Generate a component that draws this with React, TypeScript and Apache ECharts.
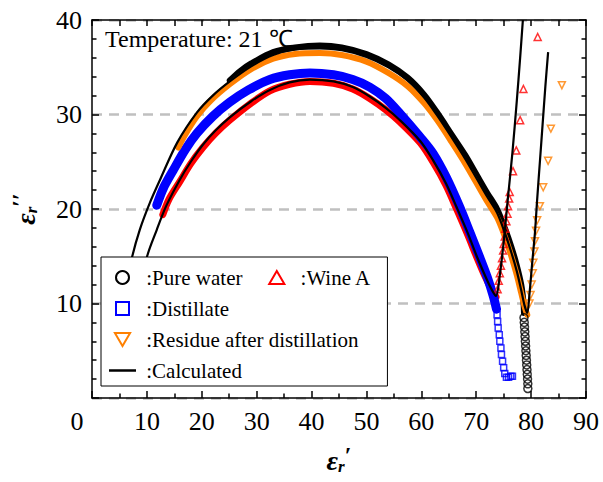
import React, { useEffect, useRef } from "react";
import * as echarts from "echarts";

// ε' (x) and ε'' (y) values
const pureWaterBand: [number, number][] = [
  [25.1, 33.6], [27.0, 34.6], [29.0, 35.4], [33.0, 36.6], [37.0, 37.1],
  [41.5, 37.3], [45.5, 37.1], [50.0, 36.4], [54.0, 35.3], [57.5, 33.9], [60.5, 32.1],
  [63.0, 30.1], [65.5, 27.9], [68.0, 25.7], [70.1, 23.6], [72.0, 21.7], [73.8, 20.0],
  [75.2, 18.0], [76.4, 16.0], [77.4, 14.0], [78.2, 12.0], [78.6, 10.2], [78.7, 9.0],
];
const pureWaterTail: [number, number][] = [
  [78.7, 8.5], [78.75, 8.0], [78.8, 7.5], [78.85, 7.0], [78.9, 6.5], [78.95, 6.0],
  [79.0, 5.5], [79.05, 5.0], [79.1, 4.5], [79.15, 4.0], [79.2, 3.5], [79.25, 3.0],
  [79.3, 2.5], [79.35, 2.0], [79.4, 1.5], [79.4, 1.0],
];
const residueBand: [number, number][] = [
  [15.7, 26.5], [17.0, 27.9], [19.1, 29.8], [21.5, 31.4], [25.1, 33.2], [29.0, 34.8],
  [33.0, 35.9], [37.0, 36.4], [41.5, 36.5], [45.5, 36.3], [50.0, 35.6], [54.0, 34.4],
  [57.5, 33.0], [60.5, 31.2], [63.0, 29.3], [65.5, 27.1], [68.0, 24.8], [70.1, 22.7],
  [72.0, 20.8], [73.8, 19.1], [75.2, 17.1], [76.4, 15.0], [77.4, 13.0], [78.2, 11.1],
  [78.8, 9.7], [79.3, 8.8],
];
const residueTail: [number, number][] = [
  [79.7, 10.0], [79.9, 10.9], [80.1, 12.0], [80.3, 13.2], [80.4, 14.3], [80.6, 15.5],
  [80.7, 16.6], [80.9, 17.7], [81.1, 18.8], [81.6, 20.3], [82.2, 22.3], [83.1, 25.1],
  [83.6, 28.5], [85.6, 33.1],
];
const wineBand: [number, number][] = [
  [12.9, 19.4], [14.0, 21.0], [16.0, 22.9], [18.0, 24.8], [20.2, 26.5], [22.5, 28.0],
  [25.1, 29.4], [29.0, 31.2], [32.4, 32.5], [36.0, 33.2], [39.7, 33.5], [44.0, 33.3],
  [47.5, 32.7], [50.6, 31.7], [53.5, 30.5], [56.1, 29.2], [59.8, 27.0], [62.1, 25.0],
  [64.5, 22.5], [66.5, 19.9], [68.5, 17.2], [70.1, 14.9], [71.5, 13.0], [72.7, 11.6],
  [73.6, 10.7],
];
const wineTail: [number, number][] = [
  [73.9, 11.5], [74.1, 12.4], [74.3, 13.2], [74.5, 14.0], [74.7, 14.8], [74.9, 15.6],
  [75.0, 16.3], [75.2, 17.1], [75.3, 17.9], [75.5, 18.7], [75.7, 19.5], [75.8, 20.3],
  [76.0, 21.1], [76.1, 21.8], [76.7, 24.0], [77.3, 26.2], [78.0, 29.4], [78.6, 32.7],
  [81.2, 38.2],
];
const distillateBand: [number, number][] = [
  [11.8, 20.4], [13.0, 22.2], [14.8, 24.1], [17.0, 26.3], [19.1, 28.0], [22.0, 29.8],
  [25.1, 31.3], [28.5, 32.6], [32.4, 33.7], [36.0, 34.2], [39.7, 34.4], [44.0, 34.2],
  [47.5, 33.7], [50.6, 32.9], [53.5, 31.7], [56.1, 30.1], [59.8, 27.6], [62.1, 25.9],
  [64.5, 23.4], [67.0, 20.2], [68.8, 17.6], [70.7, 14.8], [72.0, 12.8], [73.1, 10.8],
  [73.7, 9.4],
];
const distillateTail: [number, number][] = [
  [73.8, 8.8], [73.9, 8.1], [74.0, 7.4], [74.2, 6.7], [74.3, 6.0], [74.5, 5.3],
  [74.6, 4.6], [74.8, 3.9], [75.0, 3.2], [75.2, 2.6], [75.5, 2.2], [75.9, 2.2],
  [76.3, 2.3], [76.6, 2.3],
];
const calcUpper: [number, number][] = [
  [6.4, 12.0], [7.3, 14.9], [8.7, 17.8], [10.5, 20.6], [12.4, 23.1], [15.5, 27.0],
  [19.1, 30.2], [22.0, 32.0], [25.1, 33.5], [29.0, 35.1], [33.0, 36.3], [37.0, 36.9],
  [41.5, 37.0], [45.5, 36.8], [50.0, 36.1], [54.0, 35.0], [57.5, 33.6], [60.5, 31.8],
  [63.0, 29.8], [65.5, 27.6], [68.0, 25.3], [70.1, 23.2], [72.0, 21.3], [73.8, 19.6],
  [75.2, 17.5], [76.4, 15.4], [77.4, 13.4], [78.2, 11.4], [78.8, 9.8], [79.3, 9.0],
  [79.7, 11.0], [80.2, 14.3], [80.7, 17.5], [81.1, 21.0], [81.6, 25.0], [82.1, 29.0],
  [82.6, 33.0], [83.1, 36.6],
];
const calcLower: [number, number][] = [
  [9.3, 12.0], [10.0, 14.9], [11.8, 17.8], [13.5, 20.3], [16.0, 23.1], [18.0, 25.0],
  [20.2, 26.8], [22.5, 28.3], [25.1, 29.7], [29.0, 31.4], [32.4, 32.6], [36.0, 33.4],
  [39.7, 33.7], [44.0, 33.5], [47.5, 32.9], [50.6, 31.9], [53.5, 30.7], [56.1, 29.4],
  [59.8, 27.2], [62.1, 25.2], [64.5, 22.7], [66.5, 20.1], [68.5, 17.4], [70.1, 15.0],
  [71.5, 13.1], [72.7, 11.6], [73.6, 10.8], [74.3, 13.0], [75.0, 16.5], [75.8, 21.3],
  [76.6, 26.0], [77.4, 31.5], [78.0, 36.0], [78.5, 40.0],
];

const seriesNames = ["Pure water", "Wine A", "Distillate", "Residue after distillation", "Calculated"];
const xMin = 0, xMax = 90, xStep = 10;
const yMin = 0, yMax = 40, yStep = 10;
const titleText = "Temperature: 21 \u2103";

const FONT = "Liberation Serif";
const BLACK = "#000000";
const RED = "#ff0000";
const BLUE = "#0000ff";
const ORANGE = "#ff8000";

function band(name: string, data: [number, number][], color: string, width: number) {
  return {
    type: "line", name, data, symbol: "none", showSymbol: false, smooth: 0.3,
    lineStyle: { color, width, cap: "round", join: "round" },
    itemStyle: { color }, silent: true, z: 2,
  };
}
function dots(name: string, data: [number, number][], color: string, symbol: string, size: number, rotate = 0) {
  return {
    type: "scatter", name, data, symbol, symbolSize: size, symbolRotate: rotate,
    itemStyle: { color: "rgba(255,255,255,0)", borderColor: color, borderWidth: 1.5 },
    silent: true, z: 2,
  };
}
function calc(data: [number, number][]) {
  return {
    type: "line", name: "Calculated", data, symbol: "none", showSymbol: false, smooth: 0.3,
    lineStyle: { color: BLACK, width: 2.2 }, itemStyle: { color: BLACK }, silent: true, z: 3,
  };
}

const axisLine = { show: true, onZero: false, lineStyle: { color: BLACK, width: 1.5 } };
const nameRich = {
  e: { fontFamily: FONT, fontSize: 28, fontStyle: "italic", fontWeight: "bold", color: BLACK },
  s: { fontFamily: FONT, fontSize: 17, fontStyle: "italic", fontWeight: "bold", color: BLACK, padding: [12, 0, 0, 0] },
  p: { fontFamily: FONT, fontSize: 24, fontWeight: "bold", color: BLACK, padding: [0, 0, 10, 0] },
};

export default function App() {
  const ref = useRef<HTMLDivElement>(null);
  useEffect(() => {
    if (!ref.current) return;
    const chart = echarts.init(ref.current, undefined, { renderer: "svg" });
    const option: any = {
      animation: false,
      backgroundColor: "#ffffff",
      textStyle: { fontFamily: FONT },
      title: {
        text: titleText, left: 100, top: 22,
        textStyle: { fontFamily: FONT, fontSize: 24, fontWeight: "normal", color: BLACK },
      },
      grid: { left: 92, right: 17, top: 20, bottom: 84, containLabel: false, outerBoundsMode: "none" },
      legend: {
        left: 101, top: 257, width: 330, orient: "horizontal", z: 10,
        padding: [10, 16, 5, 8], itemGap: 10, itemWidth: 27, itemHeight: 13,
        borderColor: BLACK, borderWidth: 1, backgroundColor: "#ffffff",
        textStyle: { fontFamily: FONT, fontSize: 21, color: BLACK },
        formatter: (n: string) => (n === seriesNames[0] ? "\u00a0:" + n + "\u00a0\u00a0\u00a0" : "\u00a0:" + n),
        selectedMode: false,
        data: [
          { name: seriesNames[0], icon: "circle", itemStyle: { color: "#ffffff", borderColor: BLACK, borderWidth: 2 } },
          { name: seriesNames[1], icon: "path://M7,0L14,12L0,12Z", itemStyle: { color: "#ffffff", borderColor: RED, borderWidth: 2 } },
          { name: seriesNames[2], icon: "path://M0,0L12,0L12,12L0,12Z", itemStyle: { color: "#ffffff", borderColor: BLUE, borderWidth: 2 } },
          { name: seriesNames[3], icon: "path://M0,0L14,0L7,12Z", itemStyle: { color: "#ffffff", borderColor: ORANGE, borderWidth: 2 } },
          { name: seriesNames[4], icon: "path://M0,0L27,0L27,2.5L0,2.5Z", itemStyle: { color: BLACK, borderWidth: 0 } },
        ],
      },
      xAxis: [
        {
          type: "value", min: xMin, max: xMax, interval: xStep, position: "bottom",
          axisLine,
          axisTick: { show: true, inside: true, length: 7, lineStyle: { color: BLACK, width: 1.5 } },
          minorTick: { show: true, splitNumber: 2, length: 4.5, lineStyle: { color: BLACK, width: 1.5 } },
          splitLine: { show: false },
          axisLabel: {
            margin: 10, fontFamily: FONT, fontSize: 26, color: BLACK,
            formatter: (v: number) => (v === 0 ? "{z|0}" : String(v)),
            rich: { z: { fontFamily: FONT, fontSize: 26, color: BLACK, padding: [0, 30, 0, 0] } },
          },
          name: "{e|\u03b5}{s|r}{p|\u2032}", nameLocation: "middle", nameGap: 45,
          nameTextStyle: { fontFamily: FONT, rich: nameRich },
        },
        {
          type: "value", min: xMin, max: xMax, interval: xStep, position: "top",
          axisLine,
          axisTick: { show: true, inside: true, length: 6, lineStyle: { color: BLACK, width: 1.5 } },
          minorTick: { show: true, splitNumber: 2, length: 6, lineStyle: { color: BLACK, width: 1.5 } },
          splitLine: { show: false }, axisLabel: { show: false },
        },
      ],
      yAxis: [
        {
          type: "value", min: yMin, max: yMax, interval: yStep, position: "left",
          axisLine,
          axisTick: { show: true, inside: true, length: 7, lineStyle: { color: BLACK, width: 1.5 } },
          minorTick: { show: true, splitNumber: 5, length: 4.5, lineStyle: { color: BLACK, width: 1.5 } },
          splitLine: { show: true, lineStyle: { color: "#c0c0c0", width: 2.5, type: [10, 7] } },
          axisLabel: {
            margin: 10, fontFamily: FONT, fontSize: 26, color: BLACK,
            formatter: (v: number) => (v === 0 ? "" : String(v)),
          },
          name: "{e|\u03b5}{s|r}{p|\u2032\u2032}", nameLocation: "middle", nameGap: 50, nameRotate: 90,
          nameTextStyle: { fontFamily: FONT, rich: nameRich },
        },
        {
          type: "value", min: yMin, max: yMax, interval: yStep, position: "right",
          axisLine,
          axisTick: { show: true, inside: true, length: 7, lineStyle: { color: BLACK, width: 1.5 } },
          minorTick: { show: true, splitNumber: 5, length: 4.5, lineStyle: { color: BLACK, width: 1.5 } },
          splitLine: { show: false }, axisLabel: { show: false },
        },
      ],
      series: [
        band(seriesNames[0], pureWaterBand, BLACK, 6),
        dots(seriesNames[0], pureWaterTail, BLACK, "circle", 8),
        band(seriesNames[1], wineBand, RED, 7),
        dots(seriesNames[1], wineTail, RED, "triangle", 7),
        band(seriesNames[2], distillateBand, BLUE, 9),
        dots(seriesNames[2], distillateTail, BLUE, "rect", 6),
        band(seriesNames[3], residueBand, ORANGE, 6),
        dots(seriesNames[3], residueTail, ORANGE, "triangle", 7, 180),
        calc(calcUpper),
        calc(calcLower),
      ],
    };
    chart.setOption(option);
    return () => chart.dispose();
  }, []);
  return (
    <div
      ref={ref}
      style={{ position: "fixed", left: 0, top: 0, width: 603, height: 482, background: "#fff" }}
    />
  );
}
